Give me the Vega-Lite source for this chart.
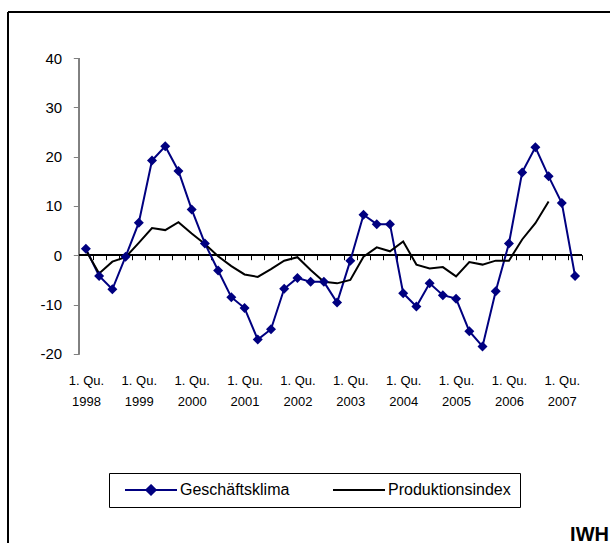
{
  "$schema": "https://vega.github.io/schema/vega-lite/v6.json",
  "autosize": {"type": "fit", "contains": "padding"},
  "width": 611,
  "height": 545,
  "padding": {"left": 7, "top": 11, "right": 0, "bottom": 0},
  "background": "white",
  "config": {
    "view": {"stroke": null},
    "font": "Liberation Sans"
  },
  "title": {
    "text": "IWH",
    "orient": "bottom",
    "anchor": "end",
    "frame": "group",
    "offset": -19,
    "dx": -1,
    "fontSize": 20,
    "fontWeight": "bold",
    "font": "Liberation Sans",
    "color": "black"
  },
  "data": {
    "values": [
      {"i": 0, "Quartal": "1998 Q1", "Geschäftsklima": 1.3, "Produktionsindex": 1.0},
      {"i": 1, "Quartal": "1998 Q2", "Geschäftsklima": -4.2, "Produktionsindex": -3.7},
      {"i": 2, "Quartal": "1998 Q3", "Geschäftsklima": -6.9, "Produktionsindex": -1.3},
      {"i": 3, "Quartal": "1998 Q4", "Geschäftsklima": -0.3, "Produktionsindex": -0.4},
      {"i": 4, "Quartal": "1999 Q1", "Geschäftsklima": 6.6, "Produktionsindex": 2.5},
      {"i": 5, "Quartal": "1999 Q2", "Geschäftsklima": 19.2, "Produktionsindex": 5.5},
      {"i": 6, "Quartal": "1999 Q3", "Geschäftsklima": 22.1, "Produktionsindex": 5.1},
      {"i": 7, "Quartal": "1999 Q4", "Geschäftsklima": 17.1, "Produktionsindex": 6.7},
      {"i": 8, "Quartal": "2000 Q1", "Geschäftsklima": 9.3, "Produktionsindex": 4.4},
      {"i": 9, "Quartal": "2000 Q2", "Geschäftsklima": 2.4, "Produktionsindex": 2.3},
      {"i": 10, "Quartal": "2000 Q3", "Geschäftsklima": -3.1, "Produktionsindex": -0.2},
      {"i": 11, "Quartal": "2000 Q4", "Geschäftsklima": -8.5, "Produktionsindex": -2.2},
      {"i": 12, "Quartal": "2001 Q1", "Geschäftsklima": -10.7, "Produktionsindex": -3.9},
      {"i": 13, "Quartal": "2001 Q2", "Geschäftsklima": -17.1, "Produktionsindex": -4.4},
      {"i": 14, "Quartal": "2001 Q3", "Geschäftsklima": -15.0, "Produktionsindex": -2.8},
      {"i": 15, "Quartal": "2001 Q4", "Geschäftsklima": -6.8, "Produktionsindex": -1.1},
      {"i": 16, "Quartal": "2002 Q1", "Geschäftsklima": -4.6, "Produktionsindex": -0.4},
      {"i": 17, "Quartal": "2002 Q2", "Geschäftsklima": -5.4, "Produktionsindex": -3.0},
      {"i": 18, "Quartal": "2002 Q3", "Geschäftsklima": -5.4, "Produktionsindex": -5.4},
      {"i": 19, "Quartal": "2002 Q4", "Geschäftsklima": -9.6, "Produktionsindex": -5.7},
      {"i": 20, "Quartal": "2003 Q1", "Geschäftsklima": -1.1, "Produktionsindex": -5.0},
      {"i": 21, "Quartal": "2003 Q2", "Geschäftsklima": 8.2, "Produktionsindex": -0.3},
      {"i": 22, "Quartal": "2003 Q3", "Geschäftsklima": 6.3, "Produktionsindex": 1.6},
      {"i": 23, "Quartal": "2003 Q4", "Geschäftsklima": 6.3, "Produktionsindex": 0.8},
      {"i": 24, "Quartal": "2004 Q1", "Geschäftsklima": -7.7, "Produktionsindex": 2.8},
      {"i": 25, "Quartal": "2004 Q2", "Geschäftsklima": -10.4, "Produktionsindex": -1.9},
      {"i": 26, "Quartal": "2004 Q3", "Geschäftsklima": -5.7, "Produktionsindex": -2.7},
      {"i": 27, "Quartal": "2004 Q4", "Geschäftsklima": -8.1, "Produktionsindex": -2.4},
      {"i": 28, "Quartal": "2005 Q1", "Geschäftsklima": -8.8, "Produktionsindex": -4.3},
      {"i": 29, "Quartal": "2005 Q2", "Geschäftsklima": -15.4, "Produktionsindex": -1.4},
      {"i": 30, "Quartal": "2005 Q3", "Geschäftsklima": -18.5, "Produktionsindex": -1.9},
      {"i": 31, "Quartal": "2005 Q4", "Geschäftsklima": -7.3, "Produktionsindex": -1.1},
      {"i": 32, "Quartal": "2006 Q1", "Geschäftsklima": 2.4, "Produktionsindex": -1.1},
      {"i": 33, "Quartal": "2006 Q2", "Geschäftsklima": 16.8, "Produktionsindex": 3.2},
      {"i": 34, "Quartal": "2006 Q3", "Geschäftsklima": 21.9, "Produktionsindex": 6.5},
      {"i": 35, "Quartal": "2006 Q4", "Geschäftsklima": 16.0, "Produktionsindex": 10.9},
      {"i": 36, "Quartal": "2007 Q1", "Geschäftsklima": 10.6, "Produktionsindex": null},
      {"i": 37, "Quartal": "2007 Q2", "Geschäftsklima": -4.2, "Produktionsindex": null}
    ]
  },
  "transform": [
    {"fold": ["Geschäftsklima", "Produktionsindex"], "as": ["Reihe", "Wert"]},
    {"filter": "isValid(datum.Wert)"}
  ],
  "encoding": {
    "x": {
      "field": "i",
      "type": "quantitative",
      "scale": {"domain": [-5.893, 39.644], "nice": false, "zero": false},
      "axis": {
        "orient": "bottom",
        "offset": -288.3,
        "title": null,
        "domain": false,
        "grid": false,
        "values": [0,1,2,3,4,5,6,7,8,9,10,11,12,13,14,15,16,17,18,19,20,21,22,23,24,25,26,27,28,29,30,31,32,33,34,35,36,37,38],
        "tickSize": 5,
        "tickColor": "#000000",
        "tickWidth": 1,
        "tickOffset": -6.61,
        "labelOffset": 6.61,
        "labelExpr": "datum.value % 4 == 0 ? ['1. Qu.', '' + (1998 + datum.value / 4)] : ''",
        "labelBaseline": "alphabetic",
        "labelPadding": 124.3,
        "labelLineHeight": 21,
        "labelFontSize": 13,
        "labelColor": "#000000",
        "labelAlign": "center",
        "labelFlush": false,
        "labelOverlap": false,
        "labelBound": false
      }
    },
    "y": {
      "field": "Wert",
      "type": "quantitative",
      "scale": {"domain": [-58.36, 49.33], "nice": false, "zero": false},
      "axis": {
        "orient": "left",
        "offset": -71.3,
        "title": null,
        "domain": false,
        "grid": false,
        "values": [-20, -10, 0, 10, 20, 30, 40],
        "labelExpr": "'' + datum.value",
        "tickSize": 6,
        "tickColor": "#808080",
        "labelPadding": 11.6,
        "labelFontSize": 15,
        "labelColor": "#000000"
      }
    }
  },
  "layer": [
    {
      "mark": {"type": "rule", "color": "#000000", "strokeWidth": 2},
      "encoding": {
        "x": {"datum": -5.893},
        "y": {"datum": -58.36},
        "y2": {"datum": 49.33}
      }
    },
    {
      "mark": {"type": "rule", "color": "#000000", "strokeWidth": 2},
      "encoding": {
        "x": {"datum": -5.893},
        "x2": {"datum": 39.644},
        "y": {"datum": 49.33}
      }
    },
    {
      "mark": {"type": "rule", "color": "#808080", "strokeWidth": 1},
      "encoding": {
        "x": {"datum": -0.5},
        "y": {"datum": -20},
        "y2": {"datum": 40}
      }
    },
    {
      "mark": {"type": "rule", "color": "#000000", "strokeWidth": 1},
      "encoding": {
        "x": {"datum": -0.5},
        "x2": {"datum": 37.5},
        "y": {"datum": 0}
      }
    },
    {
      "mark": {"type": "line", "strokeWidth": 2},
      "encoding": {
        "color": {
          "field": "Reihe",
          "type": "nominal",
          "scale": {"domain": ["Geschäftsklima", "Produktionsindex"], "range": ["#000080", "#000000"]},
          "legend": {
            "orient": "none",
            "legendX": 101,
            "legendY": 461,
            "direction": "horizontal",
            "title": null,
            "strokeColor": "#000000",
            "fillColor": "white",
            "padding": 9,
            "clipHeight": 16,
            "symbolType": "M-1,0L1,0",
            "symbolSize": 2704,
            "symbolStrokeWidth": 2,
            "symbolOffset": 6,
            "labelOffset": 2,
            "columnPadding": 36,
            "labelFont": "Liberation Sans",
            "labelFontSize": 16,
            "labelColor": "#000000",
            "encode": {
              "symbols": {
                "update": {
                  "shape": {"signal": "datum.value === 'Geschäftsklima' ? 'M-1,0L1,0M0,-0.18L0.18,0L0,0.18L-0.18,0Z' : 'M-1,0L1,0'"},
                  "fill": {"signal": "datum.value === 'Geschäftsklima' ? '#000080' : 'transparent'"}
                }
              }
            }
          }
        }
      }
    },
    {
      "transform": [{"filter": "datum.Reihe === 'Geschäftsklima'"}],
      "mark": {"type": "point", "shape": "diamond", "filled": true, "size": 100, "color": "#000080", "opacity": 1}
    }
  ]
}
